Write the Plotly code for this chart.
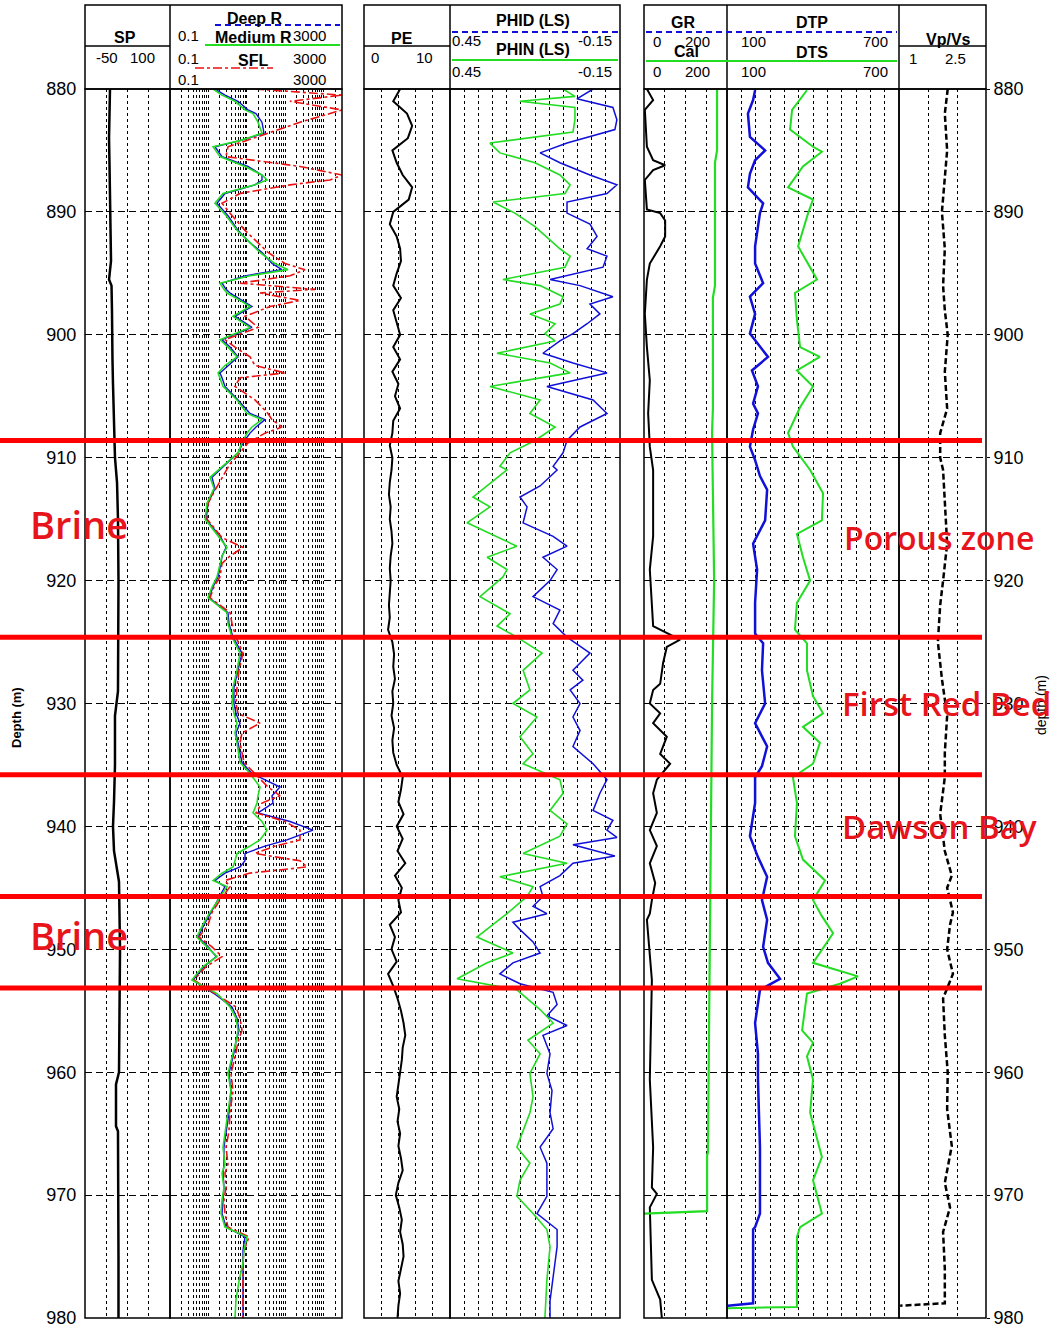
import plotly.graph_objects as go
import math

W, H = 1057, 1329

# ---------------- data ----------------
SP_DEPTH = [880, 882, 884, 886, 888, 890, 892, 894, 895.5, 896, 898, 900, 902, 904, 906, 908, 910, 912, 915, 920,
            925, 929, 931, 935, 938, 940, 942, 943, 944.5, 950, 955, 960, 961, 964.4, 964.8, 970, 975, 980]
SP_MV = [-5.9, -6.8, -7.6, -6.8, -5.9, -5.0, -4.1, -4.1, -7.6, -3.2, -2.4, -2.4, -1.5, -0.6, 0.3, 1.2, 2.9, 6.5, 8.2, 9.1,
         9.1, 8.2, 2.9, 2.9, 1.2, -0.6, 1.2, 4.7, 10.0, 11.8, 10.9, 10.0, 4.7, 4.7, 8.2, 9.1, 9.1, 9.1]

RES_DEPTH = [880.0, 880.5, 881.0, 881.7, 882.0, 882.7, 883.6, 884.2, 884.7, 885.5,
             886.3, 887.0, 887.4, 887.8, 888.5, 889.3, 890.3, 891.5, 892.5, 893.3,
             894.2, 894.7, 895.2, 895.8, 896.3, 896.6, 897.2, 897.7, 898.5, 899.4,
             900.4, 901.0, 901.8, 902.5, 903.1, 903.5, 904.2, 905.3, 906.4, 906.9,
             907.5, 908.0, 908.8, 909.6, 910.5, 911.6, 912.5, 913.7, 915.0, 916.5,
             917.3, 918.0, 918.6, 919.7, 920.5, 921.4, 922.6, 923.5, 924.6, 925.9,
             927.3, 928.7, 930.0, 930.8, 931.6, 932.4, 933.2, 934.8, 935.7, 936.8,
             937.5, 938.1, 938.9, 939.6, 940.3, 941.1, 941.6, 942.2, 942.8, 943.3,
             943.8, 944.4, 944.9, 946.0, 947.0, 948.0, 949.0, 949.8, 950.6, 951.4,
             952.5, 953.6, 954.7, 955.6, 956.6, 957.5, 958.4, 960.1, 961.5, 963.3,
             964.8, 966.1, 967.5, 968.2, 969.4, 970.4, 971.5, 972.6, 973.4, 974.5,
             975.5, 977.0, 978.5, 980.0]
RES_MEDIUM = [1.32, 2.26, 4.92, 8.96, 14.5, 19.5, 24.8, 6.64, 1.32, 2.0,
              8.96, 24.8, 33.5, 16.3, 2.40, 1.48, 2.87, 5.55, 12.1, 22.0,
              54.1, 118, 12.1, 2.0, 2.54, 3.05, 6.64, 12.1, 4.36, 12.1,
              2.0, 3.23, 5.55, 2.70, 1.78, 2.0, 2.40, 5.55, 10.1, 24.8,
              13.6, 10.1, 7.48, 5.89, 2.70, 1.10, 1.40, 0.92, 0.82, 2.0,
              3.05, 2.26, 2.0, 1.67, 1.24, 0.98, 3.05, 3.23, 4.11, 6.64,
              5.55, 4.36, 4.11, 4.63, 5.55, 4.92, 5.55, 6.64, 12.1, 22.0,
              19.5, 18.4, 14.5, 24.8, 33.5, 22.0, 12.1, 5.55, 4.92, 4.36,
              2.26, 1.32, 3.05, 1.78, 1.10, 0.72, 0.50, 0.92, 1.67, 0.72,
              0.37, 1.67, 3.65, 5.22, 5.89, 5.22, 4.36, 3.23, 3.87, 3.23,
              2.70, 2.40, 2.70, 2.26, 2.54, 2.26, 2.13, 2.70, 10.1, 8.44,
              7.94, 6.25, 5.22, 4.92]
RES_DEEP = [1.48, 2.70, 5.89, 10.7, 17.3, 24.8, 28.0, 6.64, 1.48, 2.26,
            10.7, 24.8, 24.8, 16.3, 2.70, 1.67, 3.23, 5.89, 12.1, 24.8,
            45.2, 82.3, 8.96, 2.26, 2.87, 3.65, 7.48, 13.6, 4.92, 13.6,
            2.26, 3.65, 5.89, 3.23, 2.0, 2.26, 2.70, 5.89, 12.1, 29.7,
            17.3, 12.1, 7.94, 5.89, 2.87, 1.24, 1.48, 0.98, 0.87, 2.13,
            2.87, 2.26, 2.13, 1.78, 1.32, 1.04, 3.23, 3.43, 4.36, 7.48,
            5.89, 4.63, 4.63, 5.22, 6.64, 5.22, 5.89, 7.48, 13.6, 73.0,
            45.2, 48.0, 19.5, 133, 527, 111, 29.7, 8.96, 8.96, 6.64,
            2.70, 1.48, 2.70, 1.78, 1.17, 0.77, 0.54, 0.98, 1.58, 0.77,
            0.40, 1.40, 4.11, 5.55, 6.25, 5.22, 4.63, 3.43, 3.87, 3.43,
            2.87, 2.54, 2.54, 2.40, 2.54, 2.40, 2.26, 2.87, 8.96, 7.94,
            7.94, 7.94, 7.94, 7.94]
RES_SFL = [16.3, 3000, 133, 3000, 1460, 242, 35.6, 8.96, 3.23, 2.87,
           242, 3000, 1460, 133, 6.64, 2.26, 4.11, 8.96, 19.5, 35.6,
           98.5, 326, 133, 6.64, 595, 22.0, 242, 40.1, 8.96, 19.5,
           2.70, 4.92, 12.1, 16.3, 98.5, 6.64, 4.92, 16.3, 35.6, 45.2,
           82.3, 29.7, 10.7, 6.64, 3.65, 2.26, 1.58, 0.98, 0.92, 2.26,
           7.94, 3.65, 2.26, 2.0, 1.40, 1.10, 3.65, 4.11, 5.22, 7.94,
           6.25, 5.55, 5.22, 5.89, 22.0, 7.48, 6.64, 8.44, 16.3, 35.6,
           73.0, 24.8, 17.3, 98.5, 242, 242, 54.1, 16.3, 242, 368,
           12.1, 2.70, 3.65, 2.0, 1.24, 0.98, 0.57, 1.24, 2.26, 0.87,
           0.42, 1.48, 5.22, 6.64, 7.48, 5.89, 5.22, 3.87, 4.36, 3.65,
           3.43, 2.87, 3.23, 2.70, 2.87, 2.54, 2.70, 3.23, 11.4, 8.44,
           7.94, 7.94, 7.94, 7.94]

PE_DEPTH = list(range(880, 981))
PE = [4.2, 3.4, 5.0, 5.6, 5.1, 3.3, 3.8, 4.5, 5.6, 5.2,
      3.4, 3.0, 3.8, 4.2, 4.3, 3.8, 3.4, 4.3, 3.4, 3.8,
      4.2, 3.4, 4.2, 3.3, 4.0, 3.6, 4.2, 3.4, 3.3, 3.0,
      3.3, 3.2, 3.0, 2.9, 3.1, 3.0, 3.2, 3.3, 3.1, 3.0,
      3.1, 3.0, 2.9, 3.0, 2.8, 3.3, 3.5, 3.4, 3.6, 3.3,
      3.4, 3.2, 3.5, 3.3, 3.4, 3.8, 4.5, 4.3, 4.0, 4.6,
      3.8, 4.5, 3.9, 4.8, 3.6, 4.4, 4.0, 4.3, 3.0, 3.6,
      3.2, 3.8, 2.8, 3.4, 3.9, 4.3, 4.6, 4.8, 4.5, 4.4,
      4.2, 4.0, 3.8, 4.1, 3.9, 4.2, 4.0, 4.3, 4.5, 4.0,
      3.7, 4.1, 4.4, 4.2, 4.5, 4.6, 4.3, 4.0, 4.2, 4.0,
      3.9]

PHIN_DEPTH = [880.0, 880.6, 881.0, 881.5, 882.5, 883.5, 884.4, 885.2, 886.0, 887.0,
              887.8, 888.5, 889.2, 890.1, 891.2, 892.3, 893.0, 893.6, 894.5, 895.5,
              896.0, 896.9, 897.5, 898.3, 899.1, 899.9, 900.5, 901.5, 902.3, 903.1,
              904.2, 905.3, 906.4, 907.5, 908.6, 909.6, 910.7, 911.0, 913.2, 914.0,
              915.3, 917.2, 918.1, 919.1, 919.7, 921.3, 922.7, 923.7, 924.6, 925.9,
              927.3, 928.9, 930.0, 931.1, 932.7, 934.1, 934.9, 936.2, 937.3, 938.7,
              939.8, 940.8, 942.2, 943.0, 944.1, 944.9, 945.7, 947.1, 949.0, 950.3,
              951.1, 952.4, 953.3, 954.9, 956.0, 957.4, 958.5, 960.1, 962.0, 963.3,
              966.1, 967.4, 968.8, 970.1, 971.5, 972.8, 974.2, 976.9, 980.0]
PHIN = [0.051, 0.009, 0.203, 0.009, 0.009, 0.016, 0.309, 0.274, 0.150, 0.062,
        0.026, 0.044, 0.298, 0.221, 0.150, 0.097, 0.062, 0.026, 0.044, 0.263,
        0.132, 0.051, 0.062, 0.168, 0.079, 0.115, 0.079, 0.284, 0.097, 0.026,
        0.309, 0.132, 0.168, 0.079, 0.150, 0.238, 0.274, 0.249, 0.369, 0.309,
        0.390, 0.214, 0.319, 0.249, 0.263, 0.344, 0.238, 0.284, 0.214, 0.125,
        0.192, 0.168, 0.228, 0.143, 0.203, 0.157, 0.192, 0.062, 0.051, 0.097,
        0.037, 0.062, 0.192, 0.037, 0.274, 0.157, 0.178, 0.249, 0.355, 0.228,
        0.319, 0.425, 0.214, 0.132, 0.086, 0.175, 0.132, 0.168, 0.157, 0.168,
        0.214, 0.168, 0.203, 0.214, 0.157, 0.108, 0.097, 0.108, 0.115]

PHID_DEPTH = [880.0, 880.8, 881.5, 882.5, 883.3, 884.4, 885.2, 886.0, 887.0, 887.8,
              888.5, 889.2, 890.1, 891.0, 892.0, 893.0, 893.6, 894.5, 895.5, 896.0,
              896.9, 897.5, 898.3, 899.1, 899.9, 900.5, 901.5, 902.3, 903.1, 904.2,
              905.3, 906.4, 907.5, 908.6, 909.6, 910.7, 911.0, 912.3, 913.2, 914.0,
              915.3, 916.4, 917.2, 918.1, 919.1, 920.0, 921.3, 922.4, 923.5, 924.6,
              925.9, 927.3, 928.1, 928.9, 930.0, 931.1, 932.2, 933.5, 934.9, 936.2,
              937.3, 938.7, 939.5, 940.3, 940.9, 941.5, 942.4, 943.0, 944.0, 944.9,
              945.7, 946.5, 947.1, 947.8, 948.4, 949.4, 950.3, 951.1, 952.0, 952.8,
              953.5, 954.5, 955.4, 956.2, 957.0, 958.5, 960.1, 961.5, 963.3, 964.6,
              966.1, 967.4, 968.8, 970.1, 971.5, 972.8, 974.2, 976.9, 978.6, 980.0]
PHID = [-0.055, 0.002, -0.125, -0.139, -0.132, 0.037, 0.132, 0.062, -0.044, -0.139,
        -0.104, 0.037, 0.037, -0.044, -0.069, -0.034, -0.104, -0.090, 0.097, -0.009,
        -0.125, -0.044, -0.079, -0.034, 0.016, 0.062, 0.122, 0.016, -0.104, 0.108,
        -0.055, -0.104, -0.009, 0.037, 0.051, 0.086, 0.072, 0.132, 0.203, 0.178,
        0.192, 0.086, 0.037, 0.122, 0.072, 0.097, 0.157, 0.062, 0.086, 0.037,
        -0.044, 0.016, -0.019, 0.026, -0.009, 0.016, -0.009, 0.016, -0.055, -0.104,
        -0.079, -0.055, -0.125, -0.104, -0.139, 0.016, -0.132, 0.016, 0.062, 0.132,
        0.122, 0.157, 0.108, 0.228, 0.203, 0.157, 0.132, 0.228, 0.274, 0.203,
        0.086, 0.072, 0.108, 0.037, 0.122, 0.097, 0.108, 0.090, 0.097, 0.086,
        0.132, 0.108, 0.108, 0.108, 0.143, 0.072, 0.072, 0.086, 0.097, 0.097]

GR_DEPTH = [880.0, 880.9, 881.7, 884.7, 885.8, 886.2, 886.6, 887.4, 889.8, 890.1,
            890.7, 892.0, 892.8, 894.2, 895.5, 898.3, 901.0, 903.7, 906.4, 909.1,
            911.0, 916.4, 919.1, 923.7, 924.8, 925.4, 926.7, 928.4, 928.9, 930.0,
            930.8, 931.6, 932.7, 934.1, 934.9, 936.2, 937.3, 938.9, 940.3, 941.6,
            943.0, 944.6, 946.0, 947.1, 947.6, 952.5, 960.6, 966.1, 969.4, 969.9,
            971.0, 976.9, 978.5, 980.0]
GR_API = [7, 22, 2, 7, 22, 51, 22, 2, 7, 39,
          51, 51, 39, 14, 7, 2, 7, 14, 10, 14,
          22, 22, 14, 22, 87, 55, 46, 39, 22, 14,
          39, 22, 55, 39, 63, 31, 22, 31, 14, 31,
          14, 27, 19, 14, 7, 19, 14, 22, 19, 31,
          14, 19, 39, 43]

CAL_DEPTH = [880.0, 885.0, 886.0, 896.0, 897.0, 906.0, 908.0, 920.0, 930.0, 940.0,
             946.0, 950.0, 958.0, 966.5, 966.8, 971.3, 971.5]
CAL = [176, 176, 171, 171, 166, 166, 164, 169, 164, 161,
       161, 159, 157, 154, 152, 152, 0]

DTP_DEPTH = [880.1, 880.9, 882.0, 883.9, 885.0, 885.8, 886.9, 888.0, 888.8, 889.3,
             890.1, 892.8, 894.2, 895.8, 896.9, 898.3, 899.9, 901.8, 902.9, 904.2,
             905.6, 906.4, 907.7, 909.1, 910.2, 911.5, 912.6, 915.1, 917.0, 919.1,
             921.8, 924.3, 925.1, 927.3, 930.0, 931.6, 933.5, 935.1, 936.0, 938.1,
             940.8, 942.5, 944.1, 946.0, 947.6, 949.8, 951.1, 952.4, 953.3, 956.0,
             958.5, 960.6, 966.1, 971.5, 972.6, 972.8, 978.8, 979.0]
DTP = [198, 191, 173, 180, 233, 198, 180, 173, 205, 226,
       215, 198, 198, 226, 180, 198, 180, 243, 187, 208,
       191, 208, 191, 180, 198, 215, 240, 233, 191, 205,
       198, 198, 226, 222, 233, 198, 240, 222, 198, 198,
       180, 208, 240, 222, 240, 226, 243, 285, 215, 198,
       208, 208, 215, 215, 198, 191, 191, 103]

DTS_DEPTH = [880.1, 881.7, 883.3, 884.7, 885.1, 886.3, 888.0, 889.0, 890.1, 892.8,
             895.5, 896.6, 898.8, 901.0, 901.8, 902.9, 904.2, 905.9, 908.0, 909.1,
             911.0, 912.9, 915.1, 916.2, 918.1, 920.0, 921.8, 924.0, 925.1, 927.3,
             929.4, 930.8, 931.9, 933.2, 934.9, 936.0, 938.1, 940.8, 942.7, 944.4,
             946.0, 947.3, 948.7, 951.1, 952.2, 952.8, 953.6, 956.6, 957.6, 958.7,
             960.6, 963.3, 966.9, 968.8, 971.5, 972.6, 973.4, 979.1, 979.2]
DTS = [379, 327, 320, 400, 431, 365, 313, 400, 383, 348,
       414, 337, 344, 355, 424, 344, 400, 355, 313, 330,
       390, 435, 431, 344, 365, 390, 344, 337, 379, 379,
       400, 435, 365, 424, 400, 330, 344, 337, 365, 442,
       400, 431, 470, 400, 557, 494, 379, 362, 400, 379,
       400, 390, 431, 400, 431, 355, 344, 344, 103]

VPVS_DEPTH = [880, 882, 885, 887, 890, 893, 896, 898, 900, 903,
              906, 908, 910, 911, 914, 917, 920, 922, 925, 928,
              931, 934, 936, 939, 942, 944, 945, 947, 948, 950,
              952, 954, 957, 960, 963, 966, 969, 971, 973, 976,
              978.8, 979.0]
VPVS = [1.84, 1.79, 1.83, 1.79, 1.74, 1.79, 1.76, 1.79, 1.84, 1.79,
        1.83, 1.71, 1.71, 1.76, 1.79, 1.83, 1.76, 1.71, 1.67, 1.74,
        1.83, 1.79, 1.79, 1.71, 1.79, 1.91, 1.83, 1.93, 1.88, 1.83,
        1.93, 1.76, 1.79, 1.84, 1.83, 1.91, 1.79, 1.88, 1.76, 1.79,
        1.79, 1.02]

ZONE_TOPS = [908.6, 924.6, 935.8, 945.7, 953.15]
ZONE_LABELS = ["Brine", "Brine", "Porous zone", "First Red Bed", "Dawson Bay"]
ZONE_LABEL_DEPTHS = [915.4, 948.8, 916.5, 930.0, 940.0]

DEPTH_TICKS = [880, 890, 900, 910, 920, 930, 940, 950, 960, 970, 980]

for a, b in [(SP_DEPTH, SP_MV), (RES_DEPTH, RES_MEDIUM), (RES_DEPTH, RES_DEEP), (RES_DEPTH, RES_SFL),
             (PE_DEPTH, PE), (PHIN_DEPTH, PHIN), (PHID_DEPTH, PHID), (GR_DEPTH, GR_API),
             (CAL_DEPTH, CAL), (DTP_DEPTH, DTP), (DTS_DEPTH, DTS), (VPVS_DEPTH, VPVS)]:
    assert len(a) == len(b), (len(a), len(b))

# ---------------- layout helpers ----------------
def fx(p):
    return p / W

def fy(p):
    return 1 - p / H

TOP, BOT = 89, 1318
YDOM = [fy(BOT), fy(TOP)]
TRACKS = [(85, 170), (170, 342), (364, 450), (450, 620), (644, 727), (727, 899), (899, 986)]

FONT = "Liberation Sans, Arial, sans-serif"
BLUE = "#1010d8"
GREEN = "#22dd22"
RED = "#ff0000"

fig = go.Figure()

def line(x, y, xa, ya, color, width, dash=None, name=""):
    fig.add_trace(go.Scatter(x=x, y=y, xaxis=xa, yaxis=ya, mode="lines", name=name,
                             line=dict(color=color, width=width, dash=dash), hoverinfo="skip"))

line(SP_MV, SP_DEPTH, "x", "y", "black", 2.5, name="SP")
line(RES_DEEP, RES_DEPTH, "x2", "y", BLUE, 1.4, name="Deep R")
line(RES_SFL, RES_DEPTH, "x2", "y", "#ee1111", 1.6, dash="dashdot", name="SFL")
line(RES_MEDIUM, RES_DEPTH, "x2", "y", GREEN, 1.6, name="Medium R")
line(PE, PE_DEPTH, "x3", "y", "black", 2, name="PE")
line(PHID, PHID_DEPTH, "x4", "y", BLUE, 1.5, name="PHID")
line(PHIN, PHIN_DEPTH, "x4", "y", GREEN, 1.6, name="PHIN")
line(GR_API, GR_DEPTH, "x5", "y", "black", 2, name="GR")
line(CAL, CAL_DEPTH, "x5", "y", GREEN, 2.2, name="Cal")
line(DTP, DTP_DEPTH, "x6", "y", BLUE, 2.5, name="DTP")
line(DTS, DTS_DEPTH, "x6", "y", GREEN, 2, name="DTS")
line(VPVS, VPVS_DEPTH, "x7", "y2", "black", 2.5, dash="6px,3px", name="Vp/Vs")

# vertical grid values per track
log_grid = [m * 10 ** e for e in (-1, 0, 1, 2) for m in range(1, 10)][1:] + [1000, 2000]
grids = [
    dict(range=[-50, 100], tickvals=[-12.5, 25, 62.5]),
    dict(type="log", range=[-1, math.log10(3000)], tickvals=log_grid),
    dict(range=[0, 10], tickvals=[2, 4, 6, 8]),
    dict(range=[0.45, -0.15], tickvals=[0.40, 0.35, 0.30, 0.25, 0.20, 0.15, 0.10, 0.05, 0.0, -0.05, -0.10]),
    dict(range=[0, 200], tickvals=[50, 100, 150]),
    dict(range=[100, 700], tickvals=[150, 200, 250, 300, 350, 400, 450, 500, 550, 600, 650]),
    dict(range=[1, 2.5], tickvals=[1.5, 2.0]),
]
axes = {}
for i, ((a, b), g) in enumerate(zip(TRACKS, grids)):
    key = "xaxis" if i == 0 else f"xaxis{i+1}"
    ax = dict(domain=[fx(a), fx(b)], anchor="y2" if i == 6 else "y", showgrid=True,
              gridcolor="black", gridwidth=1, griddash="3px,3px", showticklabels=False,
              ticks="", zeroline=False, showline=False, fixedrange=True, automargin=False)
    ax.update(g)
    axes[key] = ax

yax = dict(domain=YDOM, range=[980, 880], tickvals=DEPTH_TICKS, ticktext=[str(t) for t in DEPTH_TICKS],
           showgrid=True, gridcolor="black", gridwidth=1, griddash="7px,4px", zeroline=False,
           showline=False, automargin=False, tickfont=dict(family=FONT, size=18, color="black"))
axes["yaxis"] = dict(yax, anchor="x", side="left", ticks="outside", ticklen=4, tickcolor="white")
axes["yaxis2"] = dict(yax, anchor="x7", side="right", ticks="outside", ticklen=3, tickcolor="black")

fig.update_layout(**axes)

shapes = []
# track borders
for a, b in TRACKS:
    shapes.append(dict(type="rect", xref="paper", yref="paper", x0=fx(a), x1=fx(b), y0=fy(BOT), y1=fy(TOP),
                       line=dict(color="black", width=1.5)))
# header boxes
for a, b in [(85, 342), (364, 620), (644, 986)]:
    shapes.append(dict(type="rect", xref="paper", yref="paper", x0=fx(a), x1=fx(b), y0=fy(TOP), y1=fy(5),
                       line=dict(color="black", width=1.5)))
for xv in [170, 450, 727, 899]:
    shapes.append(dict(type="line", xref="paper", yref="paper", x0=fx(xv), x1=fx(xv), y0=fy(TOP), y1=fy(5),
                       line=dict(color="black", width=1.5)))
for a, b in [(85, 170), (364, 450), (899, 986)]:
    shapes.append(dict(type="line", xref="paper", yref="paper", x0=fx(a), x1=fx(b), y0=fy(46), y1=fy(46),
                       line=dict(color="black", width=1.5)))

def hline(x0, x1, y, color, width, dash="solid"):
    shapes.append(dict(type="line", xref="paper", yref="paper", x0=fx(x0), x1=fx(x1), y0=fy(y), y1=fy(y),
                       line=dict(color=color, width=width, dash=dash)))

hline(215, 340, 25, BLUE, 2, "6px,4px")
hline(205, 340, 45, GREEN, 2)
hline(195, 273, 68, "#ee1111", 1.5, "dashdot")
hline(452, 618, 32, BLUE, 2, "6px,4px")
hline(452, 618, 60, GREEN, 2)
hline(646, 897, 32, BLUE, 2, "6px,4px")
hline(646, 897, 61, GREEN, 2)

# zone boundaries
for d in ZONE_TOPS:
    shapes.append(dict(type="line", xref="paper", yref="y", x0=0, x1=fx(982), y0=d, y1=d,
                       line=dict(color=RED, width=5), layer="above"))

fig.update_layout(shapes=shapes)

def ann(text, x, y, size=15, bold=False, color="black", family=FONT, angle=0):
    fig.add_annotation(text=f"<b>{text}</b>" if bold else text, x=fx(x), y=fy(y), xref="paper", yref="paper",
                       showarrow=False, xanchor="center", yanchor="middle", textangle=angle,
                       font=dict(family=family, size=size, color=color))

# header texts
ann("SP", 125, 37, 16, True)
ann("-50", 107, 57, 15)
ann("100", 142, 57, 15)
ann("Deep R", 255, 18, 16, True)
ann("0.1", 188, 35, 15)
ann("3000", 309, 35, 15)
ann("Medium R", 253, 37, 16, True)
ann("0.1", 188, 58, 15)
ann("3000", 309, 58, 15)
ann("SFL", 253, 61, 16, True)
ann("0.1", 188, 80, 15)
ann("3000", 309, 80, 15)
ann("PE", 402, 38, 16, True)
ann("0", 375, 57, 15)
ann("10", 424, 57, 15)
ann("PHID (LS)", 533, 21, 16, True)
ann("0.45", 466, 41, 15)
ann("-0.15", 595, 41, 15)
ann("PHIN (LS)", 533, 50, 16, True)
ann("0.45", 466, 72, 15)
ann("-0.15", 595, 72, 15)
ann("GR", 683, 23, 16, True)
ann("0", 657, 42, 15)
ann("200", 697, 42, 15)
ann("Cal", 686, 52, 16, True)
ann("0", 657, 72, 15)
ann("200", 697, 72, 15)
ann("DTP", 812, 23, 16, True)
ann("100", 753, 42, 15)
ann("700", 875, 42, 15)
ann("DTS", 812, 53, 16, True)
ann("100", 753, 72, 15)
ann("700", 875, 72, 15)
ann("Vp/Vs", 948, 39, 16, True)
ann("1", 913, 58, 15)
ann("2.5", 955, 58, 15)

ann("Depth (m)", 17, 718, 13, True, angle=-90)
ann("depth (m)", 1041, 705, 14, False, angle=-90)

# zone labels
zone_x = [79, 79, 939, 946, 939]
zone_size = [38, 38, 32, 33, 33]
for txt, d, xx, sz in zip(ZONE_LABELS, ZONE_LABEL_DEPTHS, zone_x, zone_size):
    fig.add_annotation(text=txt, x=fx(xx), y=d, xref="paper", yref="y", showarrow=False,
                       xanchor="center", yanchor="middle",
                       font=dict(family="Open Sans, Noto Sans, sans-serif", size=sz, color="#e8141c",
                                 weight=600))

fig.update_layout(width=W, height=H, margin=dict(l=0, r=0, t=0, b=0, autoexpand=False), showlegend=False,
                  paper_bgcolor="white", plot_bgcolor="white")

fig.write_html("out.html")
